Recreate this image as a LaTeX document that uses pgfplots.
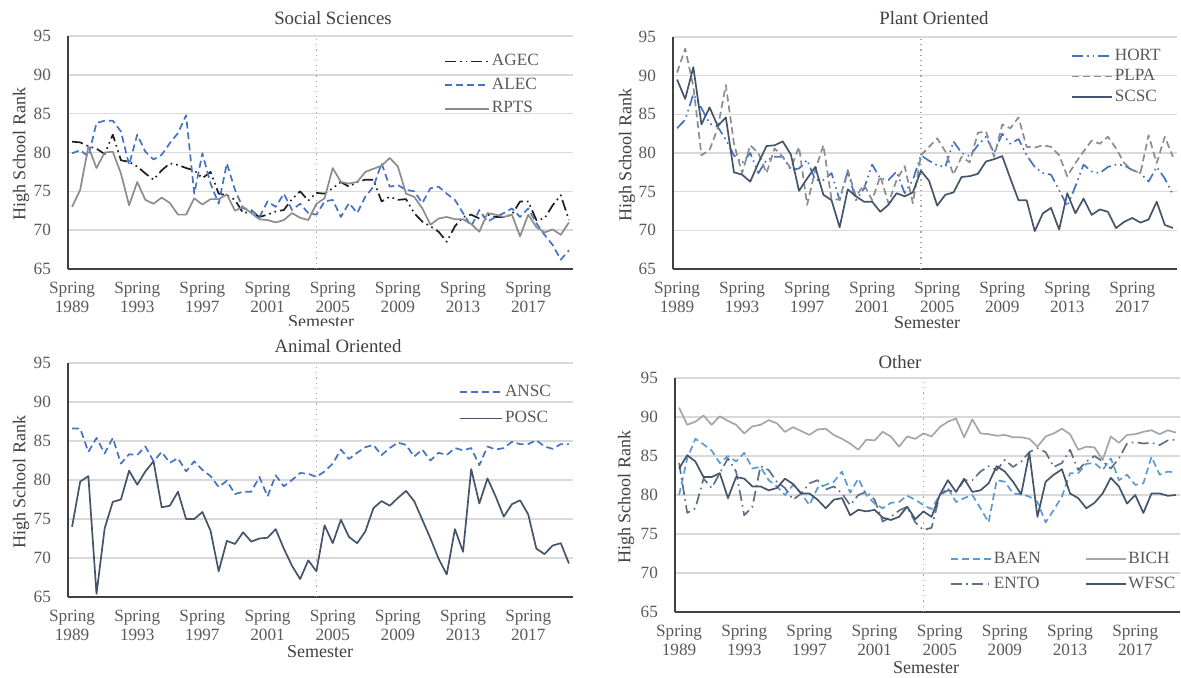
\documentclass[border=0pt]{standalone}
\usepackage{fontspec}
\setmainfont{Liberation Serif}
\usepackage{pgfplots}
\usepackage{pgfplotstable}
\pgfplotsset{compat=1.18}

\definecolor{txt}{HTML}{595959}
\definecolor{labc}{HTML}{404040}
\definecolor{gridc}{HTML}{D9D9D9}
\definecolor{axisc}{HTML}{404040}
\definecolor{blueA}{HTML}{4472C4}
\definecolor{blueB}{HTML}{5B9BD5}
\definecolor{slate}{HTML}{44546A}
\definecolor{slateL}{HTML}{5F6F86}
\definecolor{grayA}{HTML}{8C8C8C}
\definecolor{grayB}{HTML}{A6A6A6}
\definecolor{blk}{HTML}{1E1E1E}

\newcommand\tickfont{\fontsize{8.6}{9.4}\selectfont}
\newcommand\labfont{\fontsize{9}{10}\selectfont}
\newcommand\titfont{\fontsize{9.4}{11}\selectfont}

% semester index 0 = Spring 1989, 61 = Fall 2019
\pgfplotstableread{
sem AGEC ALEC RPTS
0 81.4 79.9 73.0
1 81.3 80.3 75.2
2 80.8 79.5 80.8
3 80.5 83.8 78.0
4 79.8 84.1 80.0
5 82.3 84.1 80.1
6 79.0 82.7 77.3
7 78.8 78.4 73.2
8 78.2 82.3 76.2
9 77.3 80.1 73.9
10 76.5 79.1 73.4
11 77.7 79.7 74.2
12 78.6 81.2 73.5
13 78.4 82.5 72.0
14 78.0 84.8 72.0
15 77.7 74.7 74.1
16 76.7 79.9 73.3
17 77.5 76.0 74.0
18 74.7 73.4 74.0
19 74.5 78.6 74.6
20 73.9 75.2 72.5
21 72.2 72.8 73.0
22 72.4 72.6 72.2
23 71.7 71.7 71.4
24 72.0 73.7 71.3
25 72.4 73.0 71.0
26 72.6 74.7 71.3
27 74.0 72.6 72.2
28 75.0 73.4 71.6
29 73.8 72.2 71.3
30 74.8 72.0 73.4
31 74.7 73.7 74.1
32 75.4 73.9 78.0
33 76.2 71.7 76.2
34 75.6 73.5 76.0
35 76.2 72.2 76.2
36 76.5 74.3 77.5
37 76.5 75.6 77.9
38 73.7 78.6 78.3
39 74.3 75.6 79.3
40 73.9 75.8 78.2
41 74.0 75.2 74.7
42 72.2 75.0 74.3
43 71.1 73.5 72.8
44 70.5 75.4 70.7
45 69.8 75.6 71.5
46 68.5 74.7 71.7
47 70.5 73.9 71.4
48 71.7 72.2 71.4
49 72.0 70.5 70.8
50 71.5 72.6 69.8
51 72.0 71.1 72.2
52 71.7 71.7 72.0
53 71.7 72.2 71.7
54 72.0 72.8 72.0
55 73.7 71.7 69.2
56 73.7 72.8 72.0
57 71.3 70.9 70.4
58 71.5 69.4 69.7
59 73.2 68.1 70.1
60 74.5 66.2 69.4
61 71.3 67.4 71.0
}\social

\pgfplotstableread{
sem HORT PLPA SCSC
0 83.2 90.4 89.5
1 84.3 93.5 87.0
2 87.6 88.6 91.1
3 85.8 79.7 83.7
4 83.8 80.4 85.9
5 83.4 83.2 83.5
6 81.7 88.8 84.6
7 79.7 81.2 77.5
8 78.7 77.4 77.2
9 80.0 81.0 76.3
10 77.4 80.0 78.7
11 79.1 77.4 80.9
12 79.5 80.6 81.0
13 79.5 79.5 81.5
14 77.8 78.0 79.8
15 78.0 80.8 75.1
16 79.1 73.3 76.7
17 76.5 77.8 78.2
18 76.5 81.0 74.6
19 77.4 74.0 73.9
20 73.9 74.0 70.4
21 77.6 77.8 75.3
22 73.9 74.4 74.4
23 75.4 75.9 73.7
24 78.5 73.9 73.7
25 76.7 77.0 72.4
26 76.5 73.5 73.3
27 77.6 76.5 74.8
28 74.8 78.3 74.4
29 76.5 73.5 74.9
30 79.7 79.7 77.7
31 79.0 80.8 76.4
32 78.4 81.9 73.2
33 78.2 80.2 74.6
34 81.5 77.2 74.9
35 80.0 79.5 76.9
36 79.6 78.8 77.0
37 81.0 82.6 77.3
38 82.1 82.8 78.9
39 80.0 79.5 79.2
40 82.5 83.7 79.6
41 81.2 83.2 76.7
42 81.8 84.6 73.9
43 79.7 80.8 73.9
44 78.2 80.7 69.9
45 77.4 81.0 72.2
46 77.2 80.8 72.9
47 75.2 79.7 70.1
48 73.1 77.0 74.8
49 75.7 78.7 72.2
50 78.5 80.2 74.1
51 77.6 81.6 72.0
52 77.4 81.2 72.7
53 78.2 82.1 72.4
54 78.5 80.6 70.3
55 78.4 78.7 71.1
56 77.8 77.8 71.6
57 77.4 77.4 71.0
58 76.3 82.3 71.4
59 78.2 78.7 73.7
60 76.7 82.1 70.7
61 74.6 79.5 70.3
}\plant

\pgfplotstableread{
sem ANSC POSC
0 86.6 74.0
1 86.6 79.8
2 83.6 80.5
3 85.4 65.4
4 83.4 73.8
5 85.4 77.2
6 82.1 77.5
7 83.3 81.2
8 83.2 79.4
9 84.3 81.1
10 82.4 82.4
11 83.6 76.5
12 82.2 76.7
13 82.8 78.5
14 81.1 75.0
15 82.4 75.0
16 81.3 75.9
17 80.5 73.5
18 79.1 68.3
19 79.9 72.2
20 78.2 71.8
21 78.5 73.3
22 78.5 72.1
23 80.4 72.5
24 77.9 72.6
25 80.6 73.7
26 79.2 71.2
27 80.0 69.0
28 80.9 67.3
29 80.8 69.7
30 80.4 68.3
31 81.1 74.2
32 82.1 71.9
33 83.9 74.9
34 82.7 72.7
35 83.5 71.9
36 84.2 73.4
37 84.5 76.4
38 83.2 77.3
39 84.1 76.7
40 84.8 77.7
41 84.5 78.6
42 83.0 77.3
43 83.9 74.9
44 82.5 72.5
45 83.5 69.9
46 83.2 67.9
47 84.1 73.7
48 83.8 70.8
49 84.1 81.4
50 81.9 77.0
51 84.3 80.2
52 83.9 77.9
53 84.1 75.3
54 84.9 76.9
55 84.6 77.4
56 84.6 75.6
57 85.1 71.2
58 84.3 70.5
59 84.0 71.6
60 84.6 71.9
61 84.6 69.3
}\animal

\pgfplotstableread{
sem BAEN BICH ENTO WFSC
0 80.0 91.2 84.1 83.4
1 84.7 89.0 77.7 85.1
2 87.2 89.4 78.3 84.3
3 86.5 90.2 82.1 82.3
4 85.7 89.0 80.9 82.3
5 84.1 90.1 82.8 82.8
6 85.0 89.5 84.7 79.6
7 84.3 89.0 83.0 82.3
8 85.4 87.9 77.4 82.1
9 83.4 88.8 78.5 81.1
10 83.6 89.0 83.7 81.1
11 81.9 89.6 83.2 80.6
12 81.1 89.2 81.7 80.9
13 80.0 88.1 80.9 82.1
14 81.3 88.7 79.4 81.4
15 80.2 88.2 80.2 80.2
16 78.7 87.7 81.5 80.2
17 80.9 88.4 81.9 79.4
18 81.3 88.5 80.7 78.3
19 81.7 87.7 81.1 79.4
20 83.0 87.2 80.2 79.6
21 80.3 86.6 78.7 77.4
22 82.1 85.8 80.0 78.1
23 80.0 87.1 80.4 77.9
24 78.9 87.0 79.4 78.1
25 78.3 88.1 76.6 77.1
26 79.0 87.5 77.2 76.8
27 79.1 86.2 78.0 77.2
28 79.9 87.5 78.5 78.5
29 79.4 87.2 76.5 76.9
30 78.7 87.9 75.5 77.9
31 78.2 87.5 75.8 77.2
32 80.0 88.7 80.0 80.0
33 80.9 89.4 80.6 81.9
34 79.1 89.8 80.4 80.4
35 79.6 87.4 81.9 82.1
36 80.0 89.7 81.9 80.4
37 78.3 87.9 83.0 80.6
38 76.5 87.8 83.7 81.5
39 81.9 87.6 83.2 83.7
40 81.7 87.7 84.5 83.0
41 80.2 87.4 83.6 81.7
42 80.1 87.4 84.3 80.1
43 79.8 87.2 85.5 85.4
44 79.1 86.2 86.0 77.2
45 76.5 87.5 85.5 81.7
46 78.1 87.9 83.6 82.6
47 79.8 88.5 84.1 83.3
48 82.8 87.8 85.8 80.2
49 82.8 85.8 83.2 79.6
50 84.0 86.2 84.3 78.3
51 84.1 86.1 85.0 79.0
52 83.2 84.5 84.3 80.2
53 84.7 87.5 83.4 82.2
54 81.9 86.7 84.7 81.1
55 82.6 87.7 86.6 78.9
56 81.3 87.8 86.8 80.0
57 81.5 88.1 86.6 77.7
58 84.9 88.3 86.7 80.2
59 82.6 87.8 86.4 80.2
60 83.0 88.3 87.0 79.9
61 82.9 88.0 87.1 80.0
}\other

% the marker separating the two periods
\pgfplotstableread{
sem y
30 65
30 95
}\divider

\tikzset{
  dat/.style={line width=0.85pt, line join=round, line cap=butt},
  sDash/.style={dat, dash pattern=on 3.5pt off 2pt},
  sDashDotDot/.style={dat, dash pattern=on 5.5pt off 2pt on 0.8pt off 2pt on 0.8pt off 2pt},
  sDashDot/.style={dat, dash pattern=on 5.5pt off 2.2pt on 0.8pt off 2.2pt},
  sSolid/.style={dat},
}

\pgfplotsset{
  panel/.style={
    scale only axis, anchor=south west,
    xmin=-0.5, xmax=61.5, ymin=65, ymax=95,
    xtick={0,8,...,56},
    xticklabels={{Spring\\1989},{Spring\\1993},{Spring\\1997},{Spring\\2001},{Spring\\2005},{Spring\\2009},{Spring\\2013},{Spring\\2017}},
    ytick={65,70,...,95},
    axis x line*=bottom, axis y line*=left,
    axis line style={-, draw=axisc, line width=1pt},
    ymajorgrids, grid style={draw=gridc, line width=0.75pt},
    major tick length=0pt, tick style={draw=none},
    /pgf/number format/assume math mode=true,
    tick label style={font=\tickfont, text=txt},
    xticklabel style={align=center, yshift=-3pt},
    yticklabel style={xshift=-5pt},
    legend cell align=left,
    legend style={draw=none, fill=none, inner sep=0pt, outer sep=0pt,
      font=\tickfont, text=txt, nodes={inner sep=1pt}, anchor=north west},
  },
  leglen/.style={legend image code/.code={\draw[##1] (0pt,0pt) -- (#1,0pt);}},
  divline/.style={forget plot, draw=grayB, line width=0.6pt, dotted},
}

\begin{document}
\begin{tikzpicture}
\useasboundingbox (0,0) rectangle (590.5pt,338.5pt);

% Social Sciences
\begin{axis}[panel, at={(34pt,204pt)}, width=252.5pt, height=116.5pt,
  leglen=22pt, legend style={at={(0.745,0.93)}, row sep=2.6pt}]
  \addplot[divline] table[x=sem, y=y] {\divider};
  \addplot[sDashDotDot, blk] table[x=sem, y=AGEC] {\social};
  \addplot[sDash, blueA] table[x=sem, y=ALEC] {\social};
  \addplot[sSolid, grayA] table[x=sem, y=RPTS] {\social};
  \legend{AGEC, ALEC, RPTS}
\end{axis}

% Plant Oriented
\begin{axis}[panel, at={(336.5pt,204pt)}, width=252pt, height=116pt,
  leglen=20pt, legend style={at={(0.79,0.957)}, row sep=1pt}]
  \addplot[divline] table[x=sem, y=y] {\divider};
  \addplot[sDashDotDot, blueA] table[x=sem, y=HORT] {\plant};
  \addplot[sDash, grayA] table[x=sem, y=PLPA] {\plant};
  \addplot[sSolid, slate] table[x=sem, y=SCSC] {\plant};
  \legend{HORT, PLPA, SCSC}
\end{axis}

% the lower charts sit on white, covering the foot of the upper-left caption
\begin{scope}
  \clip (0,176pt) rectangle (300pt,338.5pt);
  \node[font=\labfont, text=labc] at (160.5pt,177.5pt) {Semester};
\end{scope}

% Animal Oriented
\begin{axis}[panel, at={(34pt,40pt)}, width=252.5pt, height=117pt,
  leglen=21pt, legend style={at={(0.775,0.915)}, row sep=4pt}]
  \addplot[divline] table[x=sem, y=y] {\divider};
  \addplot[sDash, blueA] table[x=sem, y=ANSC] {\animal};
  \addplot[sSolid, slate] table[x=sem, y=POSC] {\animal};
  \legend{ANSC, POSC}
\end{axis}

% Other
\begin{axis}[panel, at={(337.5pt,32.5pt)}, width=252.5pt, height=117pt,
  leglen=20pt, legend columns=2,
  legend style={at={(0.545,0.265)}, row sep=3.3pt,
    /tikz/every even column/.append style={column sep=21pt}}]
  \addplot[divline] table[x=sem, y=y] {\divider};
  \addplot[sDash, blueB] table[x=sem, y=BAEN] {\other};
  \addplot[sSolid, grayB] table[x=sem, y=BICH] {\other};
  \addplot[sDashDot, slateL] table[x=sem, y=ENTO] {\other};
  \addplot[sSolid, slate] table[x=sem, y=WFSC] {\other};
  \legend{BAEN, BICH, ENTO, WFSC}
\end{axis}

% titles
\node[font=\titfont, text=labc] at (166.5pt,329.5pt) {Social Sciences};
\node[font=\titfont, text=labc] at (467pt,329.5pt) {Plant Oriented};
\node[font=\titfont, text=labc] at (169pt,165.5pt) {Animal Oriented};
\node[font=\titfont, text=labc] at (450pt,157.5pt) {Other};

% axis captions
\node[font=\labfont, text=labc] at (463.5pt,177pt) {Semester};
\node[font=\labfont, text=labc] at (160pt,12.5pt) {Semester};
\node[font=\labfont, text=labc] at (463pt,4.5pt) {Semester};
\node[font=\labfont, text=labc, rotate=90] at (10.5pt,261.5pt) {High School Rank};
\node[font=\labfont, text=labc, rotate=90] at (313.5pt,261pt) {High School Rank};
\node[font=\labfont, text=labc, rotate=90] at (10.5pt,97.5pt) {High School Rank};
\node[font=\labfont, text=labc, rotate=90] at (313pt,90pt) {High School Rank};
\end{tikzpicture}
\end{document}
